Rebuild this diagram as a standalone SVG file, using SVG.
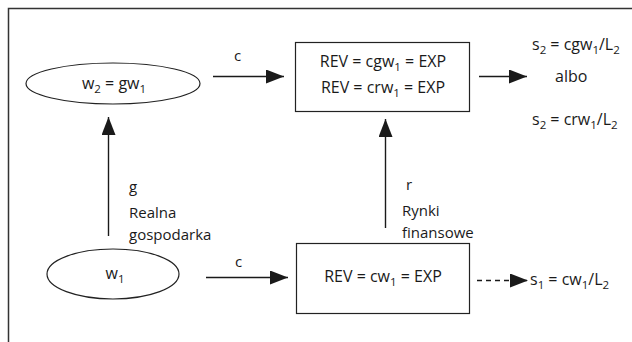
<svg xmlns="http://www.w3.org/2000/svg" width="632" height="342" viewBox="0 0 632 342">
<defs>
<marker id="ah" markerWidth="18" markerHeight="14" refX="18" refY="7" orient="auto" markerUnits="userSpaceOnUse">
<path d="M0,0 L18,7 L0,14 Z" fill="#1a1a1a"/>
</marker>
<style>
.frame{fill:none;stroke:#333;stroke-width:1.5}
.node{fill:#fff;stroke:#222;stroke-width:1.2}
.edge{fill:none;stroke:#1a1a1a;stroke-width:1.4}
.dash{stroke-dasharray:5,4}
text{font-family:"Open Sans","Noto Sans","Liberation Sans",sans-serif;font-size:16px;fill:#1a1a1a}
.lbl{font-size:15px}
.c{text-anchor:middle}
.s{font-size:11.5px}
</style>
</defs>
<rect width="632" height="342" fill="#fff"/>
<path class="frame" d="M8.5,342 V8.5 H632"/>

<g id="connectors">
<line class="edge" x1="213" y1="76.5" x2="284" y2="76.5" marker-end="url(#ah)"/>
<line class="edge" x1="479" y1="76.5" x2="527" y2="76.5" marker-end="url(#ah)"/>
<line class="edge" x1="108.5" y1="236" x2="108.5" y2="117" marker-end="url(#ah)"/>
<line class="edge" x1="385.5" y1="228" x2="385.5" y2="119" marker-end="url(#ah)"/>
<line class="edge" x1="206" y1="277.5" x2="288" y2="277.5" marker-end="url(#ah)"/>
<line class="edge dash" x1="477" y1="280.5" x2="528" y2="280.5" marker-end="url(#ah)"/>
<text class="lbl" x="234" y="61">c</text>
<text class="lbl" x="235" y="267">c</text>
<text class="lbl" x="129" y="192">g</text>
<text class="lbl" x="129" y="218">Realna</text>
<text class="lbl" x="129" y="240">gospodarka</text>
<text class="lbl" x="406" y="190">r</text>
<text class="lbl" x="402" y="216">Rynki</text>
<text class="lbl" x="402" y="238">finansowe</text>
</g>

<g id="w2">
<ellipse class="node" cx="113" cy="83.5" rx="87" ry="20.5"/>
<text class="c" x="114" y="89">w<tspan class="s" dy="4">2</tspan><tspan dy="-4"> = gw</tspan><tspan class="s" dy="4">1</tspan></text>
</g>

<g id="w1">
<ellipse class="node" cx="113" cy="274" rx="66" ry="25"/>
<text class="c" x="115" y="279">w<tspan class="s" dy="4">1</tspan></text>
</g>

<g id="top-box">
<rect class="node" x="295.5" y="42.5" width="174" height="69"/>
<text class="c" x="383" y="67">REV = cgw<tspan class="s" dy="4">1</tspan><tspan dy="-4"> = EXP</tspan></text>
<text class="c" x="383" y="93">REV = crw<tspan class="s" dy="4">1</tspan><tspan dy="-4"> = EXP</tspan></text>
</g>

<g id="bottom-box">
<rect class="node" x="296.5" y="243.5" width="173" height="70"/>
<text class="c" x="383" y="282">REV = cw<tspan class="s" dy="4">1</tspan><tspan dy="-4"> = EXP</tspan></text>
</g>

<g id="s2-results">
<text x="532" y="50">s<tspan class="s" dy="4">2</tspan><tspan dy="-4"> = cgw</tspan><tspan class="s" dy="4">1</tspan><tspan dy="-4">/L</tspan><tspan class="s" dy="4">2</tspan></text>
<text x="555" y="82">albo</text>
<text x="532" y="125">s<tspan class="s" dy="4">2</tspan><tspan dy="-4"> = crw</tspan><tspan class="s" dy="4">1</tspan><tspan dy="-4">/L</tspan><tspan class="s" dy="4">2</tspan></text>
</g>

<g id="s1-result">
<text x="530" y="285">s<tspan class="s" dy="4">1</tspan><tspan dy="-4"> = cw</tspan><tspan class="s" dy="4">1</tspan><tspan dy="-4">/L</tspan><tspan class="s" dy="4">2</tspan></text>
</g>
</svg>
